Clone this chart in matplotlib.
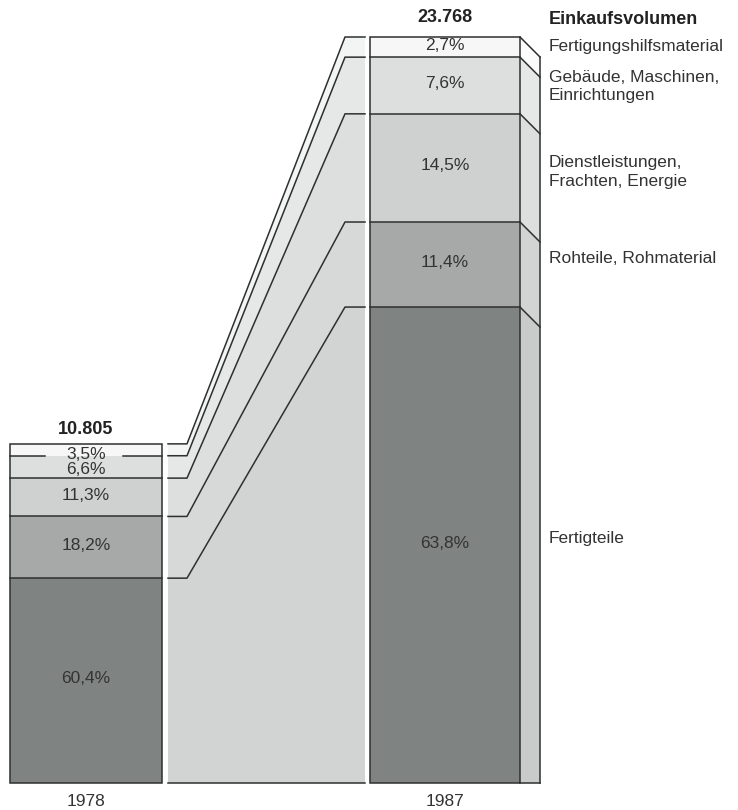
import matplotlib.pyplot as plt
from matplotlib.patches import Rectangle, Polygon
import numpy as np

plt.rcParams['font.family'] = ['Liberation Sans', 'DejaVu Sans']

# data (bottom layer first)
years = ['1978', '1987']
totals = [10805, 23768]
total_labels = ['10.805', '23.768']
categories = ['Fertigteile', 'Rohteile, Rohmaterial',
              'Dienstleistungen,\nFrachten, Energie',
              'Gebäude, Maschinen,\nEinrichtungen', 'Fertigungshilfsmaterial']
shares_1978 = [60.4, 18.2, 11.3, 6.6, 3.5]
shares_1987 = [63.8, 11.4, 14.5, 7.6, 2.7]

# styles
layer_colors = ['#7f8382', '#a6a9a8', '#ced1d0', '#dcdfde', '#f7f7f7']
side_colors = ['#c8cbca', '#d1d4d3', '#dcdfde', '#e6e8e7', '#fbfbfb']
band_colors = ['#d1d4d3', '#d6d9d8', '#dcdfde', '#e6e8e7', '#f3f4f4']
line_c = '#2e302f'
text_c = '#333333'
lw = 1.1

W, H = 738, 810
base_px, top_px = 783, 37
scale = (base_px - top_px) / totals[1]   # pixels per unit


def dpx(p):
    return p / scale


fig = plt.figure(figsize=(W / 100, H / 100), dpi=100)
ax = fig.add_axes([0, 0, 1, 1])
ax.set_xlim(0, W)
ax.set_ylim(-(H - base_px) / scale, base_px / scale)
ax.axis('off')

bars = [(10, 152), (370, 150)]   # left edge, width
shares = [shares_1978, shares_1987]
values = [np.array(s) / 100 * t for s, t in zip(shares, totals)]
tops = [np.cumsum(v) for v in values]
bottoms = [t - v for t, v in zip(tops, values)]

# stacked bars
for i in range(2):
    x0, w = bars[i]
    ax.bar(x0, values[i], width=w, bottom=bottoms[i], align='edge',
           color=layer_colors, linewidth=0, zorder=2)
    ax.add_patch(Rectangle((x0, 0), w, tops[i][-1], fill=False,
                           ec=line_c, lw=lw, zorder=4))
    for k, c in enumerate(tops[i][:-1]):
        if i == 0 and k == 3:
            ax.plot([x0, 45], [c, c], color=line_c, lw=lw, zorder=4)
            ax.plot([123, x0 + w], [c, c], color=line_c, lw=lw, zorder=4)
        else:
            ax.plot([x0, x0 + w], [c, c], color=line_c, lw=lw, zorder=4)

# side face of the 1987 bar
sx0, sx1 = 520, 540
drop = dpx(20)
for k in range(5):
    b, t = bottoms[1][k], tops[1][k]
    pts = [(sx0, b), (sx1, max(0, b - drop)), (sx1, t - drop), (sx0, t)]
    if k == 0:
        pts = [(sx0, 0), (sx1, 0), (sx1, t - drop), (sx0, t)]
    ax.add_patch(Polygon(pts, closed=True, fc=side_colors[k], ec='none', zorder=2))
    ax.plot([sx0, sx1], [t, t - drop], color=line_c, lw=lw, zorder=4)
ax.plot([sx1, sx1], [0, tops[1][-1] - drop], color=line_c, lw=lw, zorder=4)
ax.plot([sx0, sx1], [0, 0], color=line_c, lw=lw, zorder=4)

# connecting ribbon
cx = [168, 187, 345, 365]
prev = [0, 0, 0, 0]
for k in range(5):
    L, R = tops[0][k], tops[1][k]
    cur = [L, L, R, R]
    poly = list(zip(cx, prev)) + list(zip(cx[::-1], cur[::-1]))
    ax.add_patch(Polygon(poly, closed=True, fc=band_colors[k], ec='none', zorder=1))
    ax.plot(cx, cur, color=line_c, lw=lw, zorder=3)
    prev = cur
ax.plot([cx[0], cx[-1]], [0, 0], color=line_c, lw=lw, zorder=3)

# percentage labels
fs = 12.5
total_offsets = [14, 19]
for i in range(2):
    x0, w = bars[i]
    xc = x0 + w / 2
    for k in range(5):
        y = (bottoms[i][k] + tops[i][k]) / 2 + dpx(2)
        if i == 0 and k == 4:
            y = bottoms[i][k] + dpx(1)
        if i == 0 and k == 3:
            y = (bottoms[i][k] + tops[i][k]) / 2 - dpx(3)
        txt = f'{shares[i][k]:.1f}%'.replace('.', ',')
        ax.text(xc, y, txt, ha='center', va='center', fontsize=fs,
                color=text_c, zorder=5)
    ax.text(xc, tops[i][-1] + dpx(total_offsets[i]), total_labels[i],
            ha='center', va='center', fontsize=13, fontweight='bold',
            color='#222222')
    ax.text(xc, -dpx(18), years[i], ha='center', va='center',
            fontsize=fs, color=text_c)

# category labels
lx = 549
ax.text(lx, tops[1][-1] + dpx(18), 'Einkaufsvolumen', ha='left', va='center',
        fontsize=13, fontweight='bold', color='#222222')
label_offsets = [7, 6, -4, -1, 1]
for k in range(5):
    y = (bottoms[1][k] + tops[1][k]) / 2 + dpx(label_offsets[k])
    ax.text(lx, y, categories[k], ha='left', va='center', fontsize=fs,
            color=text_c, linespacing=1.3)

fig.savefig('out.png', dpi=100)
